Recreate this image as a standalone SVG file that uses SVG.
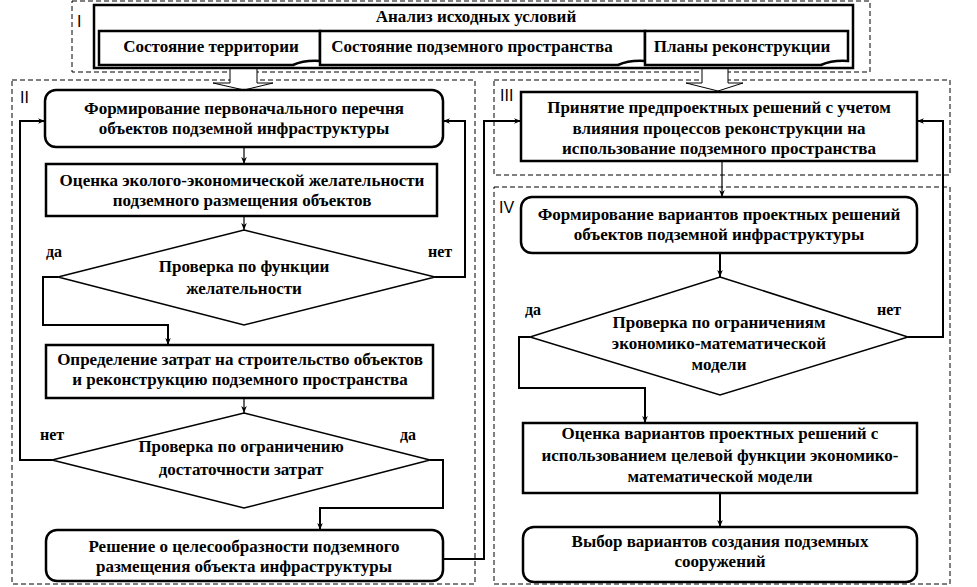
<svg xmlns="http://www.w3.org/2000/svg" width="977" height="587" viewBox="0 0 977 587">
<style>
.bg{fill:#fff}
.reg{fill:none;stroke:#000;stroke-width:1;stroke-dasharray:5,3}
.box{fill:#fff;stroke:#000;stroke-width:2.5}
.dia{fill:#fff;stroke:#000;stroke-width:1.5}
.t{font-family:'Liberation Serif','Times New Roman',serif;font-size:17px;font-weight:bold;text-anchor:middle;fill:#000}
.lbl{font-family:'Liberation Serif','Times New Roman',serif;font-size:16px;font-weight:bold;fill:#000}
.rn{font-family:'Liberation Sans',Arial,sans-serif;font-size:16px;fill:#000}
.c{fill:none;stroke:#000;stroke-width:2}
.cs{fill:none;stroke:#000;stroke-width:1.2}
.ha{fill:#fff;stroke:#000;stroke-width:1}
</style>
<defs>
<marker id="ar" viewBox="0 0 10 10" refX="10" refY="5" markerWidth="7" markerHeight="7" markerUnits="userSpaceOnUse" orient="auto">
<path d="M0,1 L10,5 L0,9 L3,5 Z" fill="#000"/>
</marker>
</defs>
<rect class="bg" x="0" y="0" width="977" height="587"/>

<g id="regions">
<rect class="reg" x="72" y="1" width="798" height="71"/>
<rect class="reg" x="12" y="80" width="463" height="504"/>
<rect class="reg" x="494" y="80" width="456" height="95"/>
<rect class="reg" x="494" y="187" width="456" height="397"/>
<text class="rn" x="77" y="27">I</text>
<text class="rn" x="20" y="103">II</text>
<text class="rn" x="500" y="101">III</text>
<text class="rn" x="499" y="213">IV</text>
</g>

<g id="connectors">
<path class="ha" d="M230,69 V83 H213 L244,90 L273,83 H257 V69"/>
<path class="ha" d="M702,69 V83 H686 L718,91 L743,83 H728 V69"/>
<path class="cs" d="M244,147 V164" marker-end="url(#ar)"/>
<path class="cs" d="M244,216 V230" marker-end="url(#ar)"/>
<path class="c" d="M58,277 H43 V325 H168 V345" marker-end="url(#ar)"/>
<path class="c" d="M435,277 H465 V121 H443" marker-end="url(#ar)"/>
<path class="cs" d="M244,398 V413" marker-end="url(#ar)"/>
<path class="c" d="M52,460 H20 V121 H45" marker-end="url(#ar)"/>
<path class="c" d="M430,460 H443 V508 H320 V530" marker-end="url(#ar)"/>
<path class="c" d="M443,559 H484 V121 H521" marker-end="url(#ar)"/>
<path class="cs" d="M722,161 V197" marker-end="url(#ar)"/>
<path class="c" d="M720,253 V277" marker-end="url(#ar)"/>
<path class="c" d="M908,337 H943 V121 H917" marker-end="url(#ar)"/>
<path class="c" d="M530,337 H519 V388 H645 V423" marker-end="url(#ar)"/>
<path class="c" d="M720,493 V527" marker-end="url(#ar)"/>
</g>

<g id="n_analysis">
<rect class="box" x="94" y="5" width="759" height="63"/>
<text class="t" x="476" y="22">Анализ исходных условий</text>
</g>
<g id="n_territory">
<path class="box" d="M99,31 H320 V61 Q304,60 293,65 H99 Z"/>
<text class="t" x="211" y="52">Состояние территории</text>
</g>
<g id="n_underground">
<path class="box" d="M320,31 H645 V61 Q629,60 618,65 H320 Z"/>
<text class="t" x="472" y="52">Состояние подземного пространства</text>
</g>
<g id="n_plans">
<path class="box" d="M645,31 H848 V61 Q832,60 821,65 H645 Z"/>
<text class="t" x="742" y="52">Планы реконструкции</text>
</g>

<g id="n_form_list">
<rect class="box" x="45" y="90" width="398" height="57" rx="11"/>
<text class="t" x="244" y="114">Формирование первоначального перечня</text>
<text class="t" x="244" y="134">объектов подземной инфраструктуры</text>
</g>
<g id="n_eco">
<rect class="box" x="46" y="164" width="391" height="52"/>
<text class="t" x="242" y="186">Оценка эколого-экономической желательности</text>
<text class="t" x="242" y="206">подземного размещения объектов</text>
</g>
<g id="n_check_desir">
<path class="dia" d="M244,230 L435,277 L244,325 L58,277 Z"/>
<text class="t" x="244" y="272">Проверка по функции</text>
<text class="t" x="244" y="294">желательности</text>
<text class="lbl" x="46" y="257">да</text>
<text class="lbl" x="428" y="257">нет</text>
</g>
<g id="n_costs">
<rect class="box" x="46" y="345" width="387" height="53"/>
<text class="t" x="240" y="365">Определение затрат на строительство объектов</text>
<text class="t" x="240" y="385">и реконструкцию подземного пространства</text>
</g>
<g id="n_check_cost">
<path class="dia" d="M244,413 L430,460 L244,508 L52,460 Z"/>
<text class="t" x="241" y="452">Проверка по ограничению</text>
<text class="t" x="241" y="475">достаточности затрат</text>
<text class="lbl" x="40" y="440">нет</text>
<text class="lbl" x="400" y="440">да</text>
</g>
<g id="n_decision">
<rect class="box" x="46" y="530" width="397" height="51" rx="11"/>
<text class="t" x="244" y="552">Решение о целесообразности подземного</text>
<text class="t" x="244" y="572">размещения объекта инфраструктуры</text>
</g>

<g id="n_preproject">
<rect class="box" x="521" y="92" width="396" height="69"/>
<text class="t" x="719" y="113">Принятие предпроектных решений с учетом</text>
<text class="t" x="719" y="134">влияния процессов реконструкции на</text>
<text class="t" x="719" y="154">использование подземного пространства</text>
</g>
<g id="n_variants">
<rect class="box" x="521" y="197" width="396" height="56" rx="11"/>
<text class="t" x="719" y="220">Формирование вариантов проектных решений</text>
<text class="t" x="719" y="240">объектов подземной инфраструктуры</text>
</g>
<g id="n_check_model">
<path class="dia" d="M720,277 L908,337 L720,395 L530,337 Z"/>
<text class="t" x="719" y="328">Проверка по ограничениям</text>
<text class="t" x="719" y="349">экономико-математической</text>
<text class="t" x="719" y="370">модели</text>
<text class="lbl" x="525" y="315">да</text>
<text class="lbl" x="877" y="315">нет</text>
</g>
<g id="n_evaluate">
<rect class="box" x="523" y="423" width="394" height="70"/>
<text class="t" x="720" y="439">Оценка вариантов проектных решений с</text>
<text class="t" x="720" y="461">использованием целевой функции экономико-</text>
<text class="t" x="720" y="482">математической модели</text>
</g>
<g id="n_choose">
<rect class="box" x="523" y="527" width="394" height="55" rx="11"/>
<text class="t" x="720" y="547">Выбор вариантов создания подземных</text>
<text class="t" x="720" y="567">сооружений</text>
</g>
</svg>
